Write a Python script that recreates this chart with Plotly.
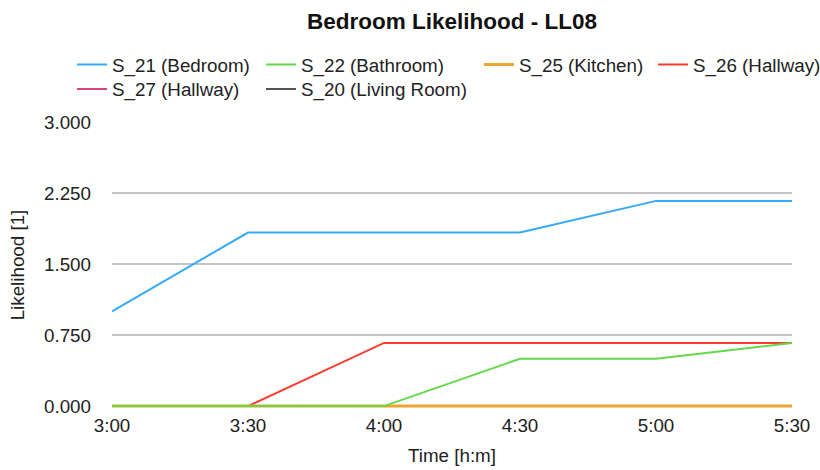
import plotly.graph_objects as go

# Time slots (x axis categories)
times = ["3:00", "3:30", "4:00", "4:30", "5:00", "5:30"]

# Likelihood per sensor
s21_bedroom = [1.0, 1.833, 1.833, 1.833, 2.167, 2.167]
s22_bathroom = [0.0, 0.0, 0.0, 0.5, 0.5, 0.667]
s25_kitchen = [0.0, 0.0, 0.0, 0.0, 0.0, 0.0]
s26_hallway = [0.0, 0.0, 0.667, 0.667, 0.667, 0.667]
s27_hallway = [0.0, 0.0, 0.0, 0.0, 0.0, 0.0]
s20_living = [0.0, 0.0, 0.0, 0.0, 0.0, 0.0]

y_ticks = [0.0, 0.75, 1.5, 2.25, 3.0]

FONT = "Liberation Sans, Arial, Helvetica, sans-serif"
TXT = "#222222"
FS = 18.8

# (name, values, colour, width, legend id) in drawing order (last on top)
series = [
    ("S_20 (Living Room)", s20_living, "#555555", 2, "legend6"),
    ("S_27 (Hallway)", s27_hallway, "#d9427f", 2, "legend5"),
    ("S_26 (Hallway)", s26_hallway, "#ff3b2f", 2, "legend4"),
    ("S_25 (Kitchen)", s25_kitchen, "#eea42e", 3, "legend3"),
    ("S_22 (Bathroom)", s22_bathroom, "#62d84a", 2, "legend2"),
    ("S_21 (Bedroom)", s21_bedroom, "#35a9f7", 2, "legend"),
]

fig = go.Figure()
for name, vals, color, width, leg in series:
    fig.add_trace(go.Scatter(
        x=times, y=vals, name=name, mode="lines",
        line=dict(color=color, width=width),
        legend=leg, showlegend=True,
    ))

# one legend per entry, laid out as a 4-column grid
leg_pos = {
    "legend": (-0.0588, 1.200),
    "legend2": (0.2191, 1.200),
    "legend3": (0.5397, 1.200),
    "legend4": (0.7956, 1.200),
    "legend5": (-0.0588, 1.114),
    "legend6": (0.2191, 1.114),
}
leg_layout = {}
for key, (lx, ly) in leg_pos.items():
    leg_layout[key] = dict(
        x=lx, y=ly, xanchor="left", yanchor="middle",
        orientation="v", bgcolor="rgba(0,0,0,0)",
        font=dict(family=FONT, size=FS, color=TXT),
        borderwidth=0,
    )

fig.update_layout(
    width=820, height=470,
    margin=dict(l=112, r=28, t=122, b=62, autoexpand=False),
    paper_bgcolor="white", plot_bgcolor="white",
    font=dict(family=FONT, size=FS, color=TXT),
    title=dict(
        text="<b>Bedroom Likelihood - LL08</b>",
        x=0.5, xref="paper", xanchor="center",
        y=1 - 21 / 470, yref="container", yanchor="middle",
        font=dict(family=FONT, size=22.5, color="#111111"),
    ),
    xaxis=dict(
        type="category", range=[0, len(times) - 1],
        showgrid=False, zeroline=False, showline=False,
        ticks="", ticklabelstandoff=4,
        tickfont=dict(family=FONT, size=FS, color=TXT),
        title=dict(text="Time [h:m]", standoff=14,
                   font=dict(family=FONT, size=FS, color=TXT)),
        automargin=False,
    ),
    yaxis=dict(
        # a small pad below zero keeps the baseline lines from being clipped
        range=[-0.02, 3], tickvals=y_ticks, tickformat=".3f",
        showgrid=True, gridcolor="#c4c4c4", gridwidth=1.5,
        zeroline=False, showline=False,
        ticks="", ticklabelstandoff=20,
        tickfont=dict(family=FONT, size=FS, color=TXT),
        title=dict(text="Likelihood [1]", standoff=14,
                   font=dict(family=FONT, size=FS, color=TXT)),
        automargin=False,
    ),
    **leg_layout,
)

fig.write_html("out.html")
